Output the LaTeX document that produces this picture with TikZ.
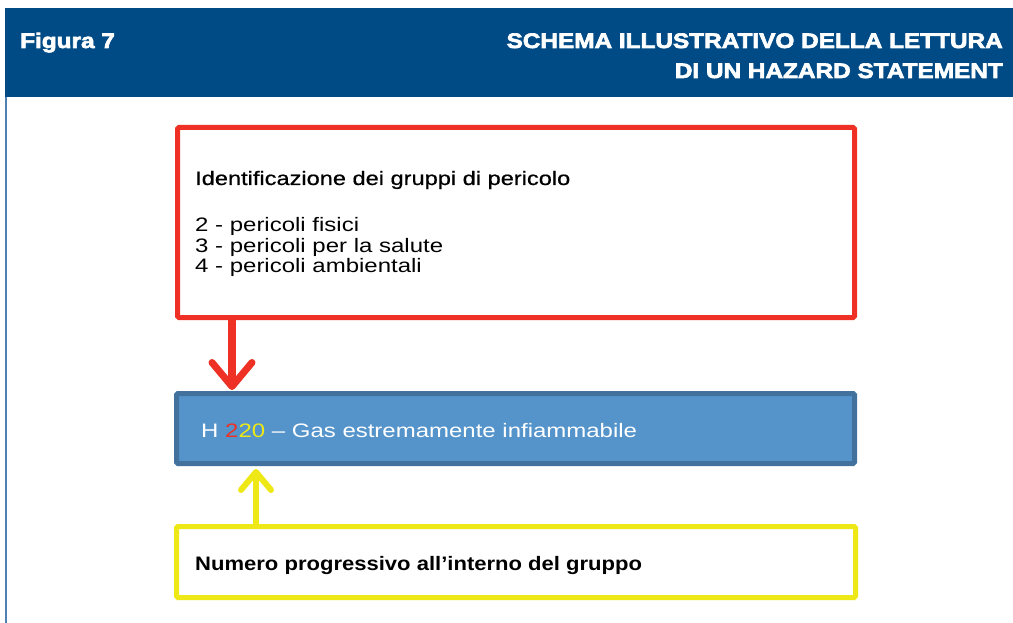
\documentclass[tikz,border=0pt]{standalone}
\usepackage{fontspec}
\setmainfont{Liberation Sans}[FakeStretch=1.23]
\newfontfamily\headfont[FakeStretch=1.21,FakeBold=0.6]{Liberation Sans}
\newfontfamily\numfont[FakeStretch=1.13]{Liberation Sans Bold}
\newfontfamily\titlefont[FakeStretch=1.16,FakeBold=3.2]{Liberation Sans Bold}
\usetikzlibrary{arrows.meta}
\definecolor{hdrblue}{HTML}{004B85}
\definecolor{sideblue}{HTML}{4F81B5}
\definecolor{boxred}{HTML}{EE3124}
\definecolor{boxyellow}{HTML}{EEE816}
\definecolor{codefill}{HTML}{5494CB}
\definecolor{codeedge}{HTML}{41719C}
\tikzset{
  frame/.style={draw, line width=5pt, rounded corners=1.5pt, inner sep=0pt},
  txt/.style={inner sep=0pt, anchor=base west, font=\fontsize{19.5}{21}\selectfont},
  hdr/.style={inner sep=0pt, text=white, font=\titlefont\fontsize{21}{30}\selectfont},
  redarrow/.style={draw=boxred, line width=7.5pt, -{Straight Barb[length=24pt, width=40pt, line width=7pt, round]}},
  yelarrow/.style={draw=boxyellow, line width=6pt, -{Straight Barb[length=18pt, width=30pt, line width=6pt, round]}}
}
\begin{document}
\begin{tikzpicture}[x=1pt, y=-1pt]
\useasboundingbox[fill=white] (0,0) rectangle (1013,623);
% header band
\fill[hdrblue] (5,8) rectangle (1013,97);
\fill[sideblue] (5,97) rectangle (6.5,623);
\node[hdr, anchor=base west] (fig) at (20,48) {Figura 7};
\node[hdr, anchor=base east] (t1) at (1003,48) {SCHEMA ILLUSTRATIVO DELLA LETTURA};
\node[hdr, anchor=base east] (t2) at (1003,78) {DI UN HAZARD STATEMENT};
% boxes
\node[frame, draw=boxred, fill=white, minimum width=677pt, minimum height=190pt] (grp) at (516,222.5) {};
\node[frame, draw=codeedge, fill=codefill, minimum width=678pt, minimum height=70pt] (code) at (515.5,428.5) {};
\node[frame, draw=boxyellow, fill=white, minimum width=679pt, minimum height=71pt] (num) at (516,562) {};
% texts
\node[txt, font=\headfont\fontsize{19.5}{21}\selectfont] (gh) at (195,185) {Identificazione dei gruppi di pericolo};
\node[txt] (g2) at (195,231.5) {2 - pericoli fisici};
\node[txt] (g3) at (195,252) {3 - pericoli per la salute};
\node[txt] (g4) at (195,272.5) {4 - pericoli ambientali};
\node[txt, text=white] (ct) at (201,437) {H \textcolor{boxred}{2}\textcolor{boxyellow}{20} -- Gas estremamente infiammabile};
\node[txt, font=\numfont\fontsize{19.5}{21}\selectfont] (nt) at (195,570) {Numero progressivo all’interno del gruppo};
% arrows
\coordinate (ra) at (232,0);
\coordinate (ya) at (256,0);
\draw[redarrow] (grp.south -| ra) -- ([yshift=1pt]code.north -| ra);
\draw[yelarrow] (num.north -| ya) -- ([yshift=-3pt]code.south -| ya);
\end{tikzpicture}
\end{document}
